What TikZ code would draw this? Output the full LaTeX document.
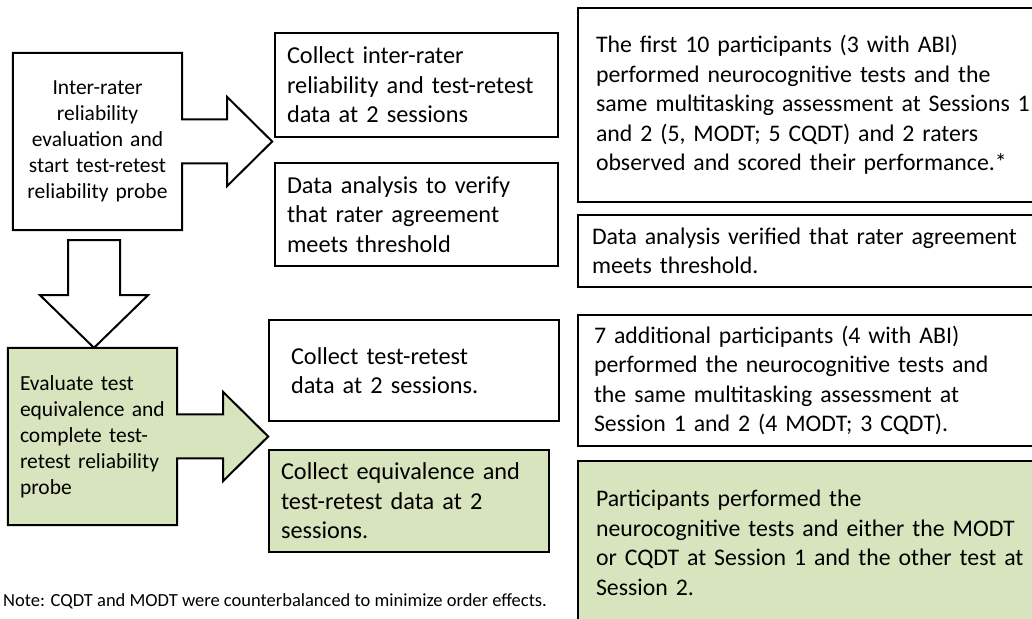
\documentclass[tikz,border=0pt]{standalone}
\usepackage{fontspec}
\setmainfont{Carlito}
\usepackage{xcolor}
\usetikzlibrary{positioning, calc, backgrounds}
\definecolor{phasegreen}{RGB}{215,228,189}
\tikzset{
  phasetext/.style={
    inner ysep=0pt, font=\fontsize{21.5}{26}\selectfont
  },
  blockshape/.style={
    draw=black, line width=2pt, fill=white, line join=miter
  },
  detailbox/.style={
    draw=black, line width=2pt, fill=white, align=left,
    inner ysep=0pt, font=\fontsize{24.3}{29.5}\selectfont
  },
  resultbox/.style={
    detailbox, anchor=west, text width=460pt,
    font=\fontsize{23.8}{29.5}\selectfont
  },
  notelabel/.style={
    inner sep=0pt, font=\fontsize{18.5}{22}\selectfont
  },
}

\begin{document}
\begin{tikzpicture}[x=1pt, y=1pt]
  \useasboundingbox (0,0) rectangle (1032,618);
  \clip (0,0) rectangle (1032,618);

  % === PHASE 1: inter-rater reliability ===
  \node[phasetext, align=center, inner xsep=8pt, text width=153pt,
        minimum width=169pt, minimum height=177pt] (ira) at (97.5, 476.5)
    {Inter-rater\\ reliability\\ evaluation and\\ start test-retest\\ reliability probe};

  \begin{scope}[on background layer]
    \draw[blockshape] (ira.north west) -- (ira.north east) -- ($(ira.east)+(0,22)$)
      -- ++(45,0) -- ++(0,22.5) -- ($(ira.east)+(90,0)$) -- ($(ira.east)+(45,-44.5)$)
      -- ++(0,22.5) -- ($(ira.east)+(0,-22)$) -- (ira.south east) -- (ira.south west) -- cycle;
  \end{scope}

  % === PHASE 2: equivalence and test-retest ===
  \node[phasetext, align=left, inner xsep=12pt, text width=145pt,
        minimum width=169pt, minimum height=177pt] (eqv) at (92.5, 181.5)
    {Evaluate test\\ equivalence and\\ complete test-\\ retest reliability\\ probe};

  \begin{scope}[on background layer]
    \draw[blockshape, fill=phasegreen] (eqv.north west) -- (eqv.north east) -- ($(eqv.east)+(0,22)$)
      -- ++(46,0) -- ++(0,22.5) -- ($(eqv.east)+(91,0)$) -- ($(eqv.east)+(46,-44.5)$)
      -- ++(0,22.5) -- ($(eqv.east)+(0,-22)$) -- (eqv.south east) -- (eqv.south west) -- cycle;
  \end{scope}

  % Down arrow between the two phases
  \coordinate (downtail) at ($(ira.south)+(-3.5,-10)$);
  \coordinate (downtip) at (eqv.north -| downtail);
  \draw[blockshape] ($(downtail)+(-26,0)$) -- ($(downtail)+(26,0)$) -- ($(downtail)+(26,-55)$)
    -- ($(downtail)+(54,-55)$) -- (downtip) -- ($(downtail)+(-54,-55)$)
    -- ($(downtail)+(-26,-55)$) -- cycle;

  % === Planned steps ===
  \node[detailbox, inner xsep=12pt, text width=259pt, minimum width=283pt, minimum height=104pt]
    (collectira) at (416.5, 533)
    {Collect inter-rater\\ reliability and test-retest\\ data at 2 sessions};
  \node[detailbox, inner xsep=12pt, text width=259pt, minimum width=283pt, minimum height=103pt]
    (analysis) at (416.5, 403.5)
    {Data analysis to verify\\ that rater agreement\\ meets threshold};
  \node[detailbox, inner xsep=22pt, text width=246pt, minimum width=290pt, minimum height=101pt]
    (collecttr) at (414, 247.5)
    {Collect test-retest\\ data at 2 sessions.};
  \node[detailbox, fill=phasegreen, inner xsep=12pt, text width=256pt, minimum width=280pt,
        minimum height=102pt] (collecteq) at (409, 117)
    {Collect equivalence and\\ test-retest data at 2\\ sessions.};

  % === What was done ===
  \node[resultbox, inner xsep=18pt, minimum height=194pt] (firstten) at (577, 513)
    {The first 10 participants (3 with ABI)\\
    performed neurocognitive tests and the\\
    same multitasking assessment at Sessions 1\\
    and 2 (5, MODT; 5 CQDT) and 2 raters\\
    observed and scored their performance.*};
  \node[resultbox, inner xsep=14pt, minimum height=72pt] (verified) at (577, 367)
    {Data analysis verified that rater agreement\\ meets threshold.};
  \node[resultbox, inner xsep=16pt, minimum height=131pt] (additional) at (577, 237.5)
    {7 additional participants (4 with ABI)\\
    performed the neurocognitive tests and\\
    the same multitasking assessment at\\
    Session 1 and 2 (4 MODT; 3 CQDT).};
  \node[resultbox, fill=phasegreen, inner xsep=18pt, minimum height=164pt] (participants) at (577, 75)
    {Participants performed the\\
    neurocognitive tests and either the MODT\\
    or CQDT at Session 1 and the other test at\\
    Session 2.};

  % === Note ===
  \node[notelabel, anchor=base west] (note) at (3, 12)
    {Note: CQDT and MODT were counterbalanced to minimize order effects.};

\end{tikzpicture}
\end{document}
